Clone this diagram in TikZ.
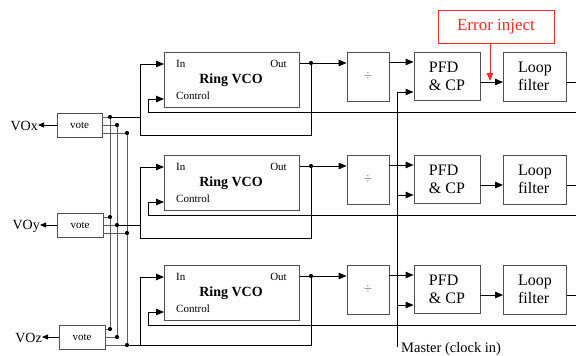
\documentclass[tikz,border=0pt]{standalone}
\usepackage{fontspec}
\setmainfont{Liberation Serif}
\usetikzlibrary{arrows.meta}
\definecolor{boxgray}{RGB}{80,80,80}
\definecolor{wiregray}{RGB}{95,95,95}
\definecolor{errred}{RGB}{255,40,40}
\definecolor{divgray}{RGB}{120,120,120}
\begin{document}
\begin{tikzpicture}[x=1pt,y=-1pt,
  blk/.style={draw=boxgray, line width=0.9pt, inner sep=0pt, fill=white},
  arr/.style={-{Triangle[length=8pt,width=6.5pt]}, line width=0.9pt, black},
  wire/.style={line width=0.8pt, black},
  vwire/.style={line width=0.8pt, wiregray},
  small/.style={font=\fontsize{11}{11}\selectfont, inner sep=0pt},
  big/.style={font=\fontsize{16}{18}\selectfont, align=left},
  dotc/.style={circle, fill=black, inner sep=0pt, minimum size=4.2pt}]
\useasboundingbox (0,0) rectangle (576,356);
\clip (0,0) rectangle (576,356);

% ---------- three PLL rows ----------
\foreach \r/\dy/\lb in {1/0/135, 2/103/238, 3/213/345}{
  \node[blk, minimum width=135pt, minimum height=55pt] (vco\r) at (232, 79.5+\dy) {};
  \node[small, anchor=west] (in\r) at (176, 64+\dy) {In};
  \node[small, anchor=east] (out\r) at (287, 64+\dy) {Out};
  \node[font=\bfseries\fontsize{14}{14}\selectfont] (rv\r) at (231, 80+\dy) {Ring VCO};
  \node[small, anchor=west] (ctl\r) at (176, 96+\dy) {Control};

  \node[blk, minimum width=42pt, minimum height=49pt] (div\r) at (368, 77+\dy)
       {\textcolor{divgray}{\fontsize{14}{14}\selectfont ÷}};
  \node[blk, big, minimum width=66pt, minimum height=48pt] (pfd\r) at (447, 76+\dy) {PFD\\\& CP};
  \node[blk, big, minimum width=63pt, minimum height=49pt] (lf\r) at (535, 76.5+\dy) {Loop\\filter};

  % VCO out -> divider, with tap
  \coordinate (dot\r) at (311, 63+\dy);
  \draw[arr] (vco\r.east |- dot\r) -- (div\r.west |- dot\r);
  \node[dotc] (d\r) at (dot\r) {};
  % loop back from out to In
  \coordinate (lp\r) at (140, \lb);
  \coordinate (inl\r) at (140, 64+\dy);
  \draw[wire] (dot\r) |- (lp\r) -- (inl\r);
  \draw[arr] (inl\r) -- (inl\r -| vco\r.west);
  % divider -> PFD
  \draw[arr] ([yshift=15pt]div\r.east) -- ([yshift=15pt]div\r.east -| pfd\r.west);
  % master -> PFD
  \coordinate (m\r) at (397, 92+\dy);
  \draw[arr] (m\r) -- (m\r -| pfd\r.west);
  % PFD -> loop filter
  \coordinate (pl\r) at (480, 82+\dy);
  \draw[arr] (pfd\r.east |- pl\r) -- (lf\r.west |- pl\r);
  % loop filter out (to right edge)
  \coordinate (lo\r) at (576, 82+\dy);
  \draw[wire] (lf\r.east |- lo\r) -- (lo\r);
  % control feedback from right edge
  \coordinate (fb\r) at (576, 112+\dy);
  \coordinate (ci\r) at (148, 99+\dy);
  \draw[wire] (fb\r) -| (ci\r);
  \draw[arr] (ci\r) -- (ci\r -| vco\r.west);
}

% master clock line
\coordinate (mb) at (397, 347);
\draw[wire] (m1) -- (mb);
\node[font=\fontsize{14.5}{15}\selectfont, anchor=west, inner sep=0pt] (mt) at (401, 349) {Master (clock in)};

% error inject
\node[draw=errred, line width=0.8pt, text=errred, font=\fontsize{17}{17}\selectfont,
      minimum width=116pt, minimum height=33pt, inner sep=0pt] (err) at (496, 26.5) {Error inject};
\coordinate (ej) at (490, 81);
\draw[-{Triangle[length=8pt,width=6.5pt]}, errred, line width=0.9pt] (err.south -| ej) -- (ej);

% ---------- voters ----------
\node[blk, small, minimum width=45pt, minimum height=24pt] (vx) at (79.5, 125) {vote};
\node[blk, small, minimum width=46pt, minimum height=24pt] (vy) at (80, 225) {vote};
\node[blk, small, minimum width=46pt, minimum height=24pt] (vz) at (82, 337) {vote};

\node[font=\fontsize{14}{14}\selectfont, inner sep=0pt, anchor=east] (ox) at (38, 126) {VOx};
\node[font=\fontsize{14}{14}\selectfont, inner sep=0pt, anchor=east] (oy) at (40, 226) {VOy};
\node[font=\fontsize{14}{14}\selectfont, inner sep=0pt, anchor=east] (oz) at (42, 338) {VOz};
\draw[-{Triangle[length=6pt,width=5pt]}, line width=0.8pt] (vx.west) -- (ox.east |- vx.west);
\draw[-{Triangle[length=6pt,width=5pt]}, line width=0.8pt] (vy.west) -- (oy.east |- vy.west);
\draw[-{Triangle[length=6pt,width=5pt]}, line width=0.8pt] (vz.west) -- (oz.east |- vz.west);

% bus wires
\coordinate (a1) at (110,117); \coordinate (a2) at (110,217); \coordinate (a3) at (110,329);
\coordinate (b1) at (117,125); \coordinate (b2) at (117,225); \coordinate (b3) at (117,337);
\coordinate (c1) at (127,133); \coordinate (c2) at (127,233); \coordinate (c3) at (127,345);
\draw[vwire] (a1) -- (a3);
\draw[vwire] (b1) -- (b3);
\draw[vwire] (c1) -- (c3);
\draw[vwire] (vx.east |- a1) -- (a1);
\draw[vwire] (vx.east |- b1) -- (b1);
\draw[vwire] (vx.east |- c1) -- (c1);
\draw[vwire] (vy.east |- a2) -- (a2);
\draw[vwire] (vy.east |- b2) -- (b2);
\draw[vwire] (vy.east |- c2) -- (c2);
\draw[vwire] (vz.east |- a3) -- (a3);
\draw[vwire] (vz.east |- b3) -- (b3);
\draw[vwire] (vz.east |- c3) -- (c3);
% taps from each VCO loop
\draw[wire] (a1) -- (a1 -| lp1);
\draw[wire] (b2) -- (b2 -| lp2);
\draw[wire] (c3) -- (lp3);
\foreach \p in {a1,a2,a3,b1,b2,b3,c1,c2,c3}{ \node[dotc] (n\p) at (\p) {}; }
\end{tikzpicture}
\end{document}
